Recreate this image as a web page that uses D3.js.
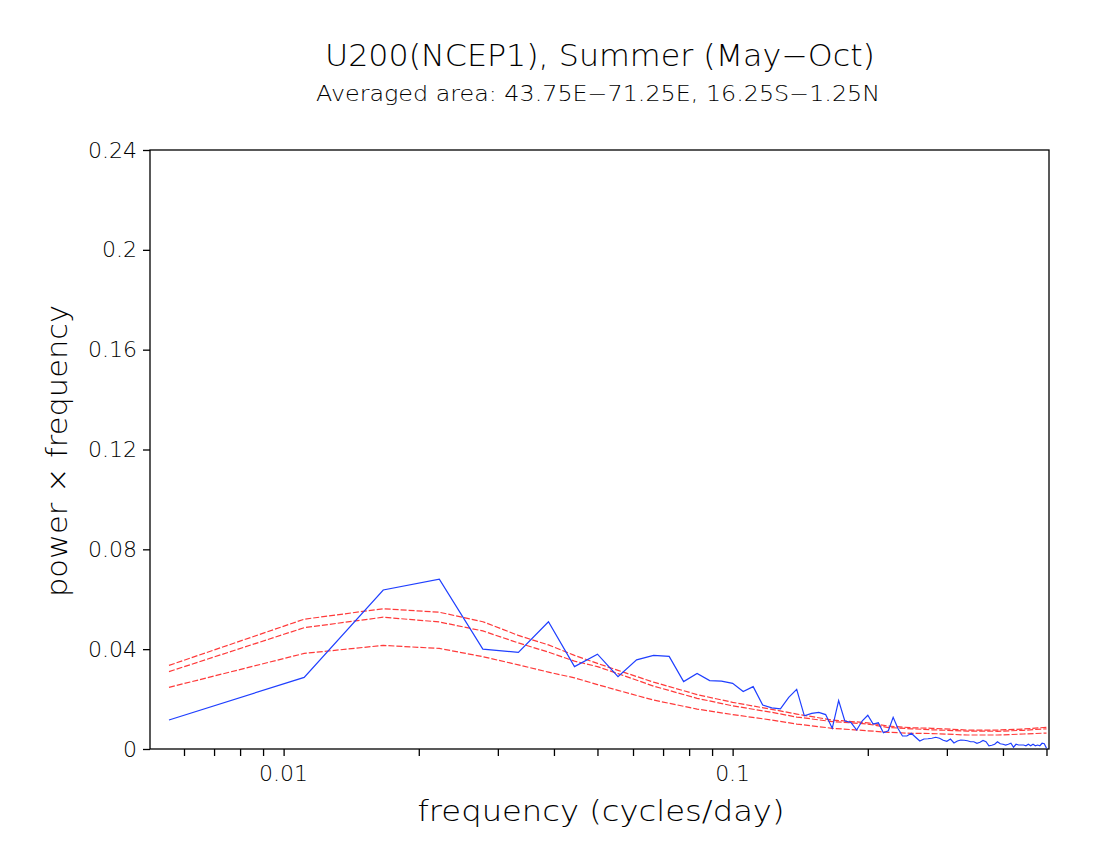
<!DOCTYPE html>
<html>
<head>
<meta charset="utf-8">
<script src="https://cdn.jsdelivr.net/npm/d3@7"></script>
<style>
  body { margin: 0; background: #fff; }
  text { font-family: "DejaVu Sans", sans-serif; font-weight: 200; fill: #000; }
</style>
</head>
<body>
<div id="chart"></div>
<script>
// harmonics of a 180-day season: frequency = k / 180 cycles/day
var nDays = 180;
var harmonics = d3.range(1, 91);

// power x frequency of the observed spectrum (blue), one value per harmonic
var spectrum = [
  0.0116, 0.0287, 0.0637, 0.0680, 0.0400, 0.0387, 0.0510, 0.0330, 0.0380, 0.0290,
  0.0357, 0.0375, 0.0371, 0.0270, 0.0303, 0.0274, 0.0272, 0.0263, 0.0230, 0.0250,
  0.0176, 0.0165, 0.0161, 0.0207, 0.0239, 0.0133, 0.0143, 0.0147, 0.0138, 0.0083,
  0.0194, 0.0112, 0.0107, 0.0076, 0.0113, 0.0135, 0.0100, 0.0105, 0.0065, 0.0073,
  0.0127, 0.0083, 0.0052, 0.0052, 0.0063, 0.0047, 0.0032, 0.0040, 0.0041, 0.0043,
  0.0047, 0.0043, 0.0035, 0.0031, 0.0040, 0.0024, 0.0032, 0.0036, 0.0035, 0.0033,
  0.0029, 0.0029, 0.0023, 0.0027, 0.0034, 0.0029, 0.0013, 0.0015, 0.0019, 0.0029,
  0.0021, 0.0019, 0.0016, 0.0019, 0.0023, 0.0007, 0.0019, 0.0016, 0.0016, 0.0016,
  0.0013, 0.0019, 0.0013, 0.0019, 0.0013, 0.0016, 0.0013, 0.0023, 0.0021, 0.0003
];

// red noise curves (read at these harmonics)
var redHarmonics = [1, 2, 3, 4, 5, 6, 7, 8, 9, 10, 12, 15, 18, 22, 25, 30, 36, 40, 45, 50, 60, 70, 80, 90];
var redUpper = [0.0335, 0.0520, 0.0562, 0.0548, 0.0510, 0.0455, 0.0417, 0.0375, 0.0343, 0.0315, 0.0268, 0.0218,
  0.0187, 0.0159, 0.0140, 0.0116, 0.0105, 0.0092, 0.0085, 0.0083, 0.0076, 0.0076, 0.0080, 0.0087];
var redMiddle = [0.0310, 0.0486, 0.0528, 0.0509, 0.0473, 0.0425, 0.0388, 0.0352, 0.0330, 0.0302, 0.0252, 0.0203,
  0.0173, 0.0147, 0.0128, 0.0110, 0.0100, 0.0086, 0.0081, 0.0077, 0.0072, 0.0071, 0.0075, 0.0081];
var redLower = [0.0247, 0.0383, 0.0415, 0.0403, 0.0370, 0.0337, 0.0308, 0.0285, 0.0258, 0.0235, 0.0196, 0.0160,
  0.0138, 0.0116, 0.0100, 0.0083, 0.0073, 0.0067, 0.0063, 0.0062, 0.0056, 0.0056, 0.0060, 0.0064];

var yTicks = [0, 0.04, 0.08, 0.12, 0.16, 0.2, 0.24];
var xLabelTicks = [0.01, 0.1];
var xMinorTicks = [0.006, 0.007, 0.008, 0.009, 0.01, 0.02, 0.03, 0.04, 0.05, 0.06, 0.07, 0.08, 0.09,
  0.1, 0.2, 0.3, 0.4, 0.5];

var svgWidth = 1100;
var svgHeight = 850;
var margin = { top: 150, right: 51, bottom: 101, left: 150 };
var width = svgWidth - margin.left - margin.right;
var height = svgHeight - margin.top - margin.bottom;

var svg = d3.select("#chart")
  .append("svg")
  .attr("width", svgWidth)
  .attr("height", svgHeight);

var chartGroup = svg.append("g")
  .attr("transform", `translate(${margin.left}, ${margin.top})`);

var xScale = d3.scaleLog()
  .domain([0.00504, 0.5065])
  .range([0, width]);

var yScale = d3.scaleLinear()
  .domain([0, 0.24])
  .range([height, 0]);

// bottom axis: ticks only, labels placed separately
var bottomAxis = d3.axisBottom(xScale)
  .tickValues(xMinorTicks)
  .tickSize(7)
  .tickFormat("");
var xAxisG = chartGroup.append("g")
  .attr("transform", `translate(0, ${height})`)
  .call(bottomAxis);
xAxisG.select(".domain").remove();
xAxisG.selectAll("line").attr("stroke", "#000").attr("stroke-width", 1.3);

chartGroup.selectAll(".xlab")
  .data(xLabelTicks)
  .enter()
  .append("text")
  .attr("class", "xlab")
  .attr("x", d => xScale(d))
  .attr("y", height + 32)
  .attr("text-anchor", "middle")
  .attr("font-size", 22)
  .text(d => d);

var leftAxis = d3.axisLeft(yScale)
  .tickValues(yTicks)
  .tickSize(7)
  .tickPadding(6)
  .tickFormat(d => d === 0 ? "0" : String(+d.toFixed(2)));
var yAxisG = chartGroup.append("g").call(leftAxis);
yAxisG.select(".domain").remove();
yAxisG.selectAll("line").attr("stroke", "#000").attr("stroke-width", 1.3);
yAxisG.selectAll("text")
  .attr("font-size", 22)
  .attr("font-family", null);

// frame
chartGroup.append("rect")
  .attr("x", 0)
  .attr("y", 0)
  .attr("width", width)
  .attr("height", height)
  .attr("fill", "none")
  .attr("stroke", "#000")
  .attr("stroke-width", 1.3);

var line = d3.line()
  .x(d => xScale(d[0] / nDays))
  .y(d => yScale(d[1]));

[redUpper, redMiddle, redLower].forEach(function(curve) {
  chartGroup.append("path")
    .datum(redHarmonics.map((k, i) => [k, curve[i]]))
    .attr("d", line)
    .attr("fill", "none")
    .attr("stroke", "#ff3a3a")
    .attr("stroke-width", 1.2)
    .attr("stroke-dasharray", "6,2");
});

chartGroup.append("path")
  .datum(harmonics.map((k, i) => [k, spectrum[i]]))
  .attr("d", line)
  .attr("fill", "none")
  .attr("stroke", "#1f3fff")
  .attr("stroke-width", 1.2);

// titles
svg.append("text")
  .attr("x", 600)
  .attr("y", 66)
  .attr("text-anchor", "middle")
  .attr("font-size", 30)
  .attr("textLength", 550)
  .attr("lengthAdjust", "spacingAndGlyphs")
  .text("U200(NCEP1), Summer (May\u2212Oct)");

svg.append("text")
  .attr("x", 598)
  .attr("y", 101)
  .attr("text-anchor", "middle")
  .attr("font-size", 21)
  .attr("textLength", 564)
  .attr("lengthAdjust", "spacingAndGlyphs")
  .text("Averaged area: 43.75E\u221271.25E, 16.25S\u22121.25N");

svg.append("text")
  .attr("x", 601)
  .attr("y", 821)
  .attr("text-anchor", "middle")
  .attr("font-size", 28)
  .attr("textLength", 367)
  .attr("lengthAdjust", "spacingAndGlyphs")
  .text("frequency (cycles/day)");

svg.append("text")
  .attr("transform", "translate(57, 451) rotate(-90)")
  .attr("text-anchor", "middle")
  .attr("dominant-baseline", "central")
  .attr("font-size", 28)
  .attr("textLength", 292)
  .attr("lengthAdjust", "spacingAndGlyphs")
  .text("power \u00d7 frequency");
</script>
</body>
</html>
